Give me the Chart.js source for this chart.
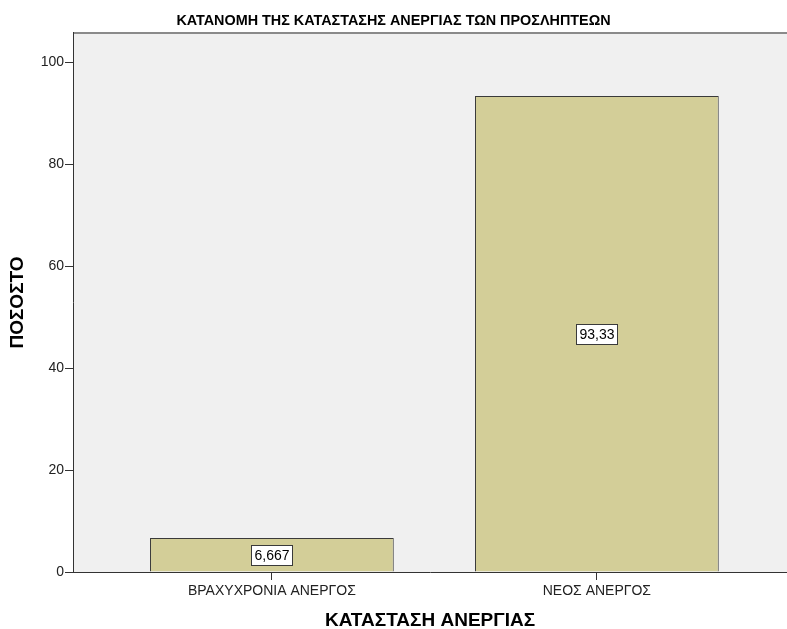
<!DOCTYPE html>
<html>
<head>
<meta charset="utf-8">
<script src="https://cdn.jsdelivr.net/npm/chart.js@4"></script>
<style>
  body { margin: 0; background: #fff; }
  .contenedor { width: 787px; height: 629px; }
</style>
</head>
<body>
<div class="contenedor"><canvas id="grafico"></canvas></div>
<script>
// datos
const categorias = ['ΒΡΑΧΥΧΡΟΝΙΑ ΑΝΕΡΓΟΣ', 'ΝΕΟΣ ΑΝΕΡΓΟΣ'];
const porcentajes = [6.667, 93.33];
const ticksY = [0, 20, 40, 60, 80, 100];

const titulo = 'ΚΑΤΑΝΟΜΗ ΤΗΣ ΚΑΤΑΣΤΑΣΗΣ ΑΝΕΡΓΙΑΣ ΤΩΝ ΠΡΟΣΛΗΠΤΕΩΝ';
const tituloX = 'ΚΑΤΑΣΤΑΣΗ ΑΝΕΡΓΙΑΣ';
const tituloY = 'ΠΟΣΟΣΤΟ';

const fuente = '"Liberation Sans", Arial, sans-serif';

// fondo gris del area y borde superior
const fondoPlugin = {
    id: 'fondo',
    beforeDraw(chart) {
        const { ctx, chartArea: a } = chart;
        ctx.save();
        ctx.fillStyle = '#f0f0f0';
        ctx.fillRect(a.left, a.top, a.right - a.left, a.bottom - a.top);
        ctx.strokeStyle = '#8a8a8a';
        ctx.lineWidth = 2;
        ctx.beginPath();
        ctx.moveTo(a.left, a.top);
        ctx.lineTo(a.right, a.top);
        ctx.stroke();
        ctx.restore();
    }
};

// etiquetas con caja blanca en el centro de cada barra
const etiquetasPlugin = {
    id: 'etiquetas',
    afterDatasetsDraw(chart) {
        const ctx = chart.ctx;
        const meta = chart.getDatasetMeta(0);
        ctx.save();
        ctx.font = '14px ' + fuente;
        ctx.textAlign = 'center';
        ctx.textBaseline = 'middle';
        meta.data.forEach((bar, i) => {
            const texto = String(porcentajes[i]).replace('.', ',');
            const cx = bar.x;
            const cy = (bar.y + bar.base) / 2;
            const w = Math.round(ctx.measureText(texto).width + 6);
            const h = 20;
            const x0 = Math.round(cx - w / 2);
            const y0 = Math.round(cy - h / 2);
            ctx.fillStyle = '#ffffff';
            ctx.fillRect(x0, y0, w, h);
            ctx.strokeStyle = '#3a3a3a';
            ctx.lineWidth = 1;
            ctx.strokeRect(x0 + 0.5, y0 + 0.5, w, h);
            ctx.fillStyle = '#000';
            ctx.fillText(texto, x0 + w / 2 + 0.5, y0 + h / 2 + 1);
        });
        ctx.restore();
    }
};

const ctx = document.getElementById('grafico').getContext('2d');
new Chart(ctx, {
    type: 'bar',
    data: {
        datasets: [{
            data: porcentajes.map((v, i) => ({ x: i, y: v })),
            backgroundColor: '#d3ce98',
            borderColor: '#3a3a3a',
            borderWidth: 1,
            barPercentage: 0.75,
            categoryPercentage: 1
        }]
    },
    options: {
        responsive: true,
        maintainAspectRatio: false,
        animation: false,
        layout: { padding: 0 },
        plugins: {
            legend: { display: false },
            tooltip: { enabled: false },
            title: {
                display: true,
                text: titulo,
                color: '#000',
                font: { family: fuente, size: 14.4, weight: 'bold', lineHeight: 1.2 },
                padding: { top: 12, bottom: 3.7 }
            }
        },
        scales: {
            x: {
                type: 'linear',
                offset: false,
                min: -0.612,
                max: 1.585,
                afterBuildTicks: axis => { axis.ticks = categorias.map((c, i) => ({ value: i })); },
                afterFit: axis => { axis.height = 57; },
                ticks: {
                    callback: v => categorias[v],
                    color: '#222',
                    font: { family: fuente, size: 14 },
                    padding: 3,
                    maxRotation: 0,
                    autoSkip: false
                },
                grid: { offset: false, drawOnChartArea: false, drawTicks: true, tickLength: 8, color: '#333' },
                border: { display: true, color: '#333', width: 1 },
                title: {
                    display: true,
                    text: tituloX,
                    color: '#000',
                    font: { family: fuente, size: 19, weight: 'bold', lineHeight: 0.9 },
                    padding: { top: 0, bottom: 0 }
                }
            },
            y: {
                min: 0,
                max: 105.7,
                afterBuildTicks: axis => { axis.ticks = ticksY.map(v => ({ value: v })); },
                afterFit: axis => { axis.width = 73; },
                ticks: {
                    color: '#222',
                    font: { family: fuente, size: 14 },
                    padding: 1
                },
                grid: { drawOnChartArea: false, drawTicks: true, tickLength: 8, color: '#333' },
                border: { display: true, color: '#333', width: 1 },
                title: {
                    display: true,
                    text: tituloY,
                    color: '#000',
                    font: { family: fuente, size: 19, weight: 'bold', lineHeight: 1.2 },
                    padding: { top: 6.6, bottom: 0 }
                }
            }
        }
    },
    plugins: [fondoPlugin, etiquetasPlugin]
});
</script>
</body>
</html>
